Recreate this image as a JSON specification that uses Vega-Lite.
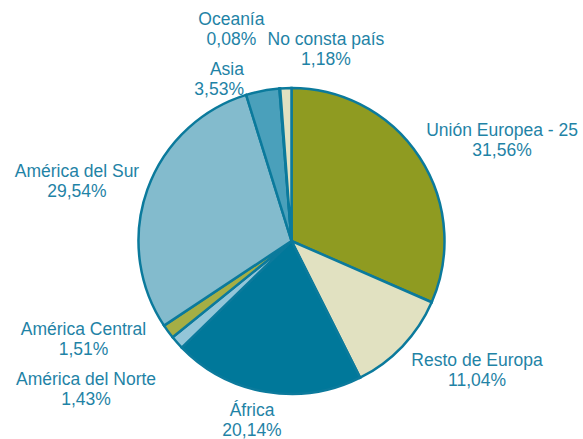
{
  "$schema": "https://vega.github.io/schema/vega-lite/v6.json",
  "width": 583,
  "height": 396,
  "autosize": {"type": "none"},
  "padding": {"top": 43, "left": 0, "right": 0, "bottom": 0},
  "background": "white",
  "config": {"view": {"stroke": null}},
  "data": {"values": [
    {"idx": 1, "region": "Unión Europea - 25", "value": 31.56, "label": "Unión Europea - 25\n31,56%"},
    {"idx": 2, "region": "Resto de Europa", "value": 11.04, "label": "Resto de Europa\n11,04%"},
    {"idx": 3, "region": "África", "value": 20.14, "label": "África\n20,14%"},
    {"idx": 4, "region": "América del Norte", "value": 1.43, "label": "América del Norte\n1,43%"},
    {"idx": 5, "region": "América Central", "value": 1.51, "label": "América Central\n1,51%"},
    {"idx": 6, "region": "América del Sur", "value": 29.54, "label": "América del Sur\n29,54%"},
    {"idx": 7, "region": "Asia", "value": 3.53, "label": "Asia\n3,53%"},
    {"idx": 8, "region": "Oceanía", "value": 0.08, "label": "Oceanía\n0,08%"},
    {"idx": 9, "region": "No consta país", "value": 1.18, "label": "No consta país\n1,18%"}
  ]},
  "encoding": {
    "theta": {"field": "value", "type": "quantitative", "stack": true},
    "order": {"field": "idx", "type": "quantitative"}
  },
  "layer": [
    {
      "mark": {"type": "arc", "outerRadius": 153, "stroke": "#0b7a9c", "strokeWidth": 2.5},
      "encoding": {
        "color": {
          "field": "region", "type": "nominal", "legend": null,
          "scale": {
            "domain": ["Unión Europea - 25", "Resto de Europa", "África", "América del Norte", "América Central", "América del Sur", "Asia", "Oceanía", "No consta país"],
            "range": ["#8f9b21", "#e1e1c1", "#00789a", "#93c6d8", "#a5ae45", "#83bbcd", "#4aa0bb", "#00789a", "#e1e1c1"]
          }
        }
      }
    },
    {
      "mark": {"type": "text", "lineBreak": "\n", "lineHeight": 20, "font": "Liberation Sans", "fontSize": 17.5, "fill": "#1f83a6", "align": "center", "baseline": "alphabetic", "dx": 82.5, "dy": -21.2},
      "encoding": {"radius": {"value": 153}, "text": {"condition": {"test": "datum.idx === 1", "field": "label"}, "value": ""}}
    },
    {
      "mark": {"type": "text", "lineBreak": "\n", "lineHeight": 20, "font": "Liberation Sans", "fontSize": 17.5, "fill": "#1f83a6", "align": "center", "baseline": "alphabetic", "dx": 74.5, "dy": 19.7},
      "encoding": {"radius": {"value": 153}, "text": {"condition": {"test": "datum.idx === 2", "field": "label"}, "value": ""}}
    },
    {
      "mark": {"type": "text", "lineBreak": "\n", "lineHeight": 20, "font": "Liberation Sans", "fontSize": 17.5, "fill": "#1f83a6", "align": "center", "baseline": "alphabetic", "dx": -14, "dy": 23.8},
      "encoding": {"radius": {"value": 153}, "text": {"condition": {"test": "datum.idx === 3", "field": "label"}, "value": ""}}
    },
    {
      "mark": {"type": "text", "lineBreak": "\n", "lineHeight": 20, "font": "Liberation Sans", "fontSize": 17.5, "fill": "#1f83a6", "align": "center", "baseline": "alphabetic", "dx": -91, "dy": 42.5},
      "encoding": {"radius": {"value": 153}, "text": {"condition": {"test": "datum.idx === 4", "field": "label"}, "value": ""}}
    },
    {
      "mark": {"type": "text", "lineBreak": "\n", "lineHeight": 20, "font": "Liberation Sans", "fontSize": 17.5, "fill": "#1f83a6", "align": "center", "baseline": "alphabetic", "dx": -84.7, "dy": 3.4},
      "encoding": {"radius": {"value": 153}, "text": {"condition": {"test": "datum.idx === 5", "field": "label"}, "value": ""}}
    },
    {
      "mark": {"type": "text", "lineBreak": "\n", "lineHeight": 20, "font": "Liberation Sans", "fontSize": 17.5, "fill": "#1f83a6", "align": "center", "baseline": "alphabetic", "dx": -70.4, "dy": -13},
      "encoding": {"radius": {"value": 153}, "text": {"condition": {"test": "datum.idx === 6", "field": "label"}, "value": ""}}
    },
    {
      "mark": {"type": "text", "lineBreak": "\n", "lineHeight": 20, "font": "Liberation Sans", "fontSize": 17.5, "fill": "#1f83a6", "align": "right", "baseline": "alphabetic", "dx": -18.6, "dy": -15.8},
      "encoding": {"radius": {"value": 153}, "text": {"condition": {"test": "datum.idx === 7", "field": "label"}, "value": ""}}
    },
    {
      "mark": {"type": "text", "lineBreak": "\n", "lineHeight": 20, "font": "Liberation Sans", "fontSize": 17.5, "fill": "#1f83a6", "align": "center", "baseline": "alphabetic", "dx": -48.4, "dy": -63.4},
      "encoding": {"radius": {"value": 153}, "text": {"condition": {"test": "datum.idx === 8", "field": "label"}, "value": ""}}
    },
    {
      "mark": {"type": "text", "lineBreak": "\n", "lineHeight": 20, "font": "Liberation Sans", "fontSize": 17.5, "fill": "#1f83a6", "align": "center", "baseline": "alphabetic", "dx": 40.1, "dy": -43.1},
      "encoding": {"radius": {"value": 153}, "text": {"condition": {"test": "datum.idx === 9", "field": "label"}, "value": ""}}
    }
  ]
}
